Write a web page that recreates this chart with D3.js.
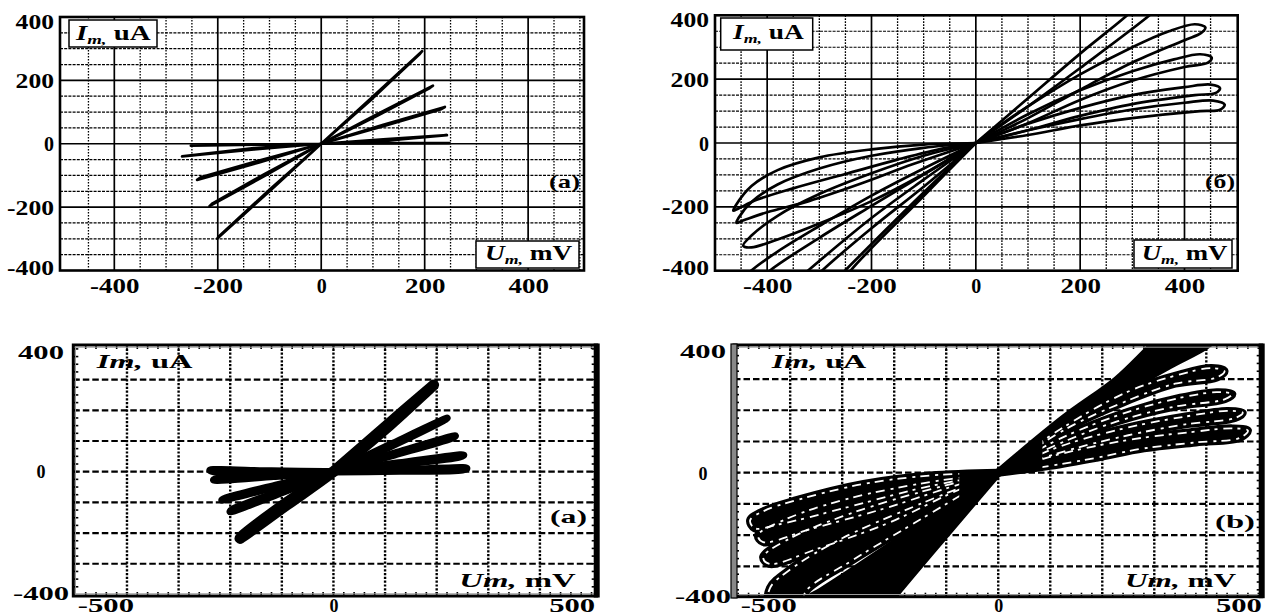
<!DOCTYPE html>
<html>
<head>
<meta charset="utf-8">
<script src="https://cdn.jsdelivr.net/npm/d3@7"></script>
<style>
  body { margin: 0; background: #fff; }
  svg { display: block; font-family: "Liberation Serif", "Times New Roman", serif; font-weight: bold; }
  svg text { font-family: "Liberation Serif", "Times New Roman", serif; font-weight: bold; }
</style>
</head>
<body>
<svg id="chart" width="1269" height="615"></svg>
<script>
// tick labels
const topXTicks = [-400, -200, 0, 200, 400];
const topYTicks = [-400, -200, 0, 200, 400];
const botXTicks = [-500, 0, 500];
const botYTicks = [-400, 0, 400];

// top-left (a): thin pinched lobes, points are [U mV, I uA]
const topLeftLines = [
  [[0,0],[100,149],[195,292],[191,284],[100,144],[0,0],[-100,-150],[-201,-299],[-197,-291],[-100,-145],[0,0]],
  [[0,0],[110,95],[216,183],[210,176],[110,90],[0,0],[-110,-102],[-216,-197],[-210,-188],[-110,-96],[0,0]],
  [[0,0],[120,60],[239,116],[232,109],[120,55],[0,0],[-120,-59],[-240,-114],[-233,-106],[-120,-53],[0,0]],
  [[0,0],[120,14],[243,27],[120,9],[0,0],[120,2],[248,2],[0,0],[-130,-18],[-269,-40],[-130,-14],[0,0],[-125,-3],[-252,-6],[0,0]]
];

// top-right (б): hysteresis loops, positive side
const topRightLoopsPos = [
  [[0,0],[100,140],[200,280],[290,400],[315,440],[360,440],[333,400],[200,235],[100,115],[0,0]],
  [[0,0],[50,60],[100,115],[200,215],[300,300],[370,350],[420,372],[440,362],[432,345],[400,322],[300,252],[200,167],[100,78],[50,38],[0,0]],
  [[0,0],[100,90],[200,165],[300,225],[380,262],[430,278],[452,268],[445,252],[400,238],[300,195],[200,135],[100,62],[0,0]],
  [[0,0],[100,60],[200,110],[300,150],[400,175],[450,183],[468,172],[460,157],[420,150],[300,122],[200,85],[100,40],[0,0]],
  [[0,0],[100,40],[200,75],[300,105],[400,126],[455,133],[477,120],[468,104],[430,100],[300,78],[200,55],[100,25],[0,0]]
];
// top-right (б): negative side
const topRightLoopsNeg = [
  [[0,0],[-100,-5],[-200,-20],[-300,-45],[-380,-85],[-430,-135],[-460,-195],[-465,-212],[-455,-205],[-420,-178],[-350,-142],[-250,-97],[-150,-52],[-60,-16],[0,0]],
  [[0,0],[-100,-15],[-200,-40],[-300,-80],[-380,-130],[-430,-185],[-455,-235],[-459,-250],[-445,-242],[-400,-217],[-320,-182],[-220,-127],[-120,-66],[0,0]],
  [[0,0],[-100,-40],[-200,-95],[-300,-160],[-380,-228],[-430,-290],[-446,-322],[-430,-327],[-380,-302],[-300,-252],[-200,-182],[-100,-97],[0,0]],
  [[0,0],[-100,-80],[-200,-165],[-300,-260],[-380,-340],[-431,-400],[-460,-440],[-420,-440],[-395,-400],[-300,-297],[-200,-197],[-100,-99],[0,0]],
  [[0,0],[-100,-115],[-200,-235],[-322,-400],[-350,-440],[-320,-440],[-295,-400],[-200,-267],[-100,-137],[0,0]],
  [[0,0],[-100,-155],[-251,-400],[-275,-440],[-255,-440],[-240,-400],[-100,-166],[0,0]]
];

// bottom-left (a): thick bands, steepest one and the rest
const botLeftSteep = [
  [[0,0],[100,146],[194,282],[186,270],[100,138],[0,0],[-90,-108],[-181,-217],[-174,-205],[-90,-100],[0,0]]
];
const botLeftBands = [
  [[0,0],[110,88],[220,174],[212,166],[110,82],[0,0],[-100,-68],[-200,-130],[-194,-122],[-100,-62],[0,0]],
  [[0,0],[118,60],[236,116],[228,109],[118,55],[0,0],[-108,-48],[-216,-92],[-208,-86],[-108,-43],[0,0]],
  [[0,0],[126,28],[252,54],[244,48],[126,23],[0,0],[-116,-15],[-232,-27],[-224,-22],[-116,-11],[0,0]],
  [[0,0],[129,6],[258,11],[250,6],[129,2],[0,0],[-120,2],[-239,5],[-230,0],[-120,-1],[0,0]]
];

// bottom-right (b): solid main bands and filled loops
const botRightSolid = [
  [[0,0],[125,172],[228,297],[298,409],[320,440],[420,440],[401,409],[330,345],[230,250],[120,135],[0,0]],
  [[0,0],[-100,-195],[-202,-397],[-222,-440],[-400,-440],[-340,-380],[-230,-260],[-115,-128],[0,0]]
];
const botRightLoops = [
  [[0,0],[120,140],[250,260],[350,315],[410,335],[435,325],[420,305],[340,285],[240,225],[130,140],[0,0]],
  [[0,0],[120,110],[250,195],[350,240],[420,258],[450,252],[435,235],[340,212],[230,165],[120,95],[0,0]],
  [[0,0],[120,85],[250,145],[360,180],[440,198],[470,192],[455,175],[360,155],[250,120],[130,70],[0,0]],
  [[0,0],[120,60],[250,105],[370,130],[450,142],[480,135],[465,112],[380,97],[280,78],[189,48],[100,22],[0,0]],
  [[0,0],[-131,-9],[-259,-36],[-388,-88],[-450,-122],[-477,-152],[-468,-178],[-420,-165],[-300,-115],[-150,-50],[0,0]],
  [[0,0],[-150,-35],[-300,-88],[-410,-150],[-462,-200],[-452,-222],[-360,-180],[-220,-115],[-90,-45],[0,0]],
  [[0,0],[-150,-62],[-300,-140],[-400,-210],[-452,-270],[-440,-292],[-350,-245],[-210,-160],[-90,-65],[0,0]],
  [[0,0],[-150,-100],[-300,-210],[-400,-310],[-439,-370],[-440,-440],[-380,-440],[-370,-380],[-280,-280],[-150,-150],[0,0]]
];

const svg = d3.select('#chart');
const defs = svg.append('defs');
const SERIF = '"Liberation Serif", "Times New Roman", serif';

// panel frames (pixel boxes)
const panels = [
  {id: 'p1', xd: [-505, 508], xr: [60, 584], yd: [-400, 400], yr: [270.5, 17]},
  {id: 'p2', xd: [-500, 502], xr: [715, 1237.7], yd: [-400, 400], yr: [270.7, 15.3]},
  {id: 'p3', xd: [-504, 510], xr: [73.3, 596.7], yd: [-405, 412.7], yr: [596, 345]},
  {id: 'p4', xd: [-508, 506.5], xr: [734, 1261.7], yd: [-397, 409], yr: [596.7, 345]}
];
panels.forEach(p => {
  p.x = d3.scaleLinear().domain(p.xd).range(p.xr);
  p.y = d3.scaleLinear().domain(p.yd).range(p.yr);
  p.line = d3.line().x(d => p.x(d[0])).y(d => p.y(d[1])).curve(d3.curveCatmullRom.alpha(0.5));
  p.poly = d3.line().x(d => p.x(d[0])).y(d => p.y(d[1]));
  defs.append('clipPath').attr('id', 'clip-' + p.id)
    .append('rect')
      .attr('x', p.xr[0]).attr('y', p.yr[1])
      .attr('width', p.xr[1] - p.xr[0]).attr('height', p.yr[0] - p.yr[1]);
});

// streak clip for panel 4: keep the crossing point solid
{
  const p = panels[3];
  const c = defs.append('clipPath').attr('id', 'clip-streak');
  c.append('rect').attr('x', p.xr[0]).attr('y', p.yr[1]).attr('width', p.x(-75) - p.xr[0]).attr('height', p.yr[0] - p.yr[1]);
  c.append('rect').attr('x', p.x(85)).attr('y', p.yr[1]).attr('width', p.xr[1] - p.x(85)).attr('height', p.yr[0] - p.yr[1]);
}

const fmt = d => d < 0 ? '-' + (-d) : '' + d;

// stretch a text element horizontally (the scan is wide)
function stretch(sel, factor) {
  sel.each(function() {
    if (this.textContent === '0') return;
    const len = this.getComputedTextLength();
    d3.select(this).attr('textLength', len * factor).attr('lengthAdjust', 'spacingAndGlyphs');
  });
}

// mixed-style label scaled to a target width
function addLabel(left, base, target, parts, size) {
  const g = svg.append('g');
  const t = g.append('text').attr('x', 0).attr('y', 0).attr('font-size', size).attr('fill', '#000');
  parts.forEach(p => {
    const s = t.append('tspan').text(p.t);
    if (p.it) s.attr('font-style', 'italic');
    if (p.fs) s.attr('font-size', p.fs);
    if (p.dy) s.attr('dy', p.dy);
  });
  const w = t.node().getBBox().width;
  g.attr('transform', `translate(${left},${base}) scale(${target / w},1)`);
}

function styleAxis(ax, size) {
  ax.attr('font-family', SERIF).attr('font-weight', 'bold');
  ax.select('.domain').remove();
  ax.selectAll('text').attr('font-size', size).attr('fill', '#000');
}

function drawTop(p, curves, lineGen) {
  const g = svg.append('g');
  const [x0, x1] = p.xr, [y1, y0] = p.yr;
  g.append('rect').attr('x', x0).attr('y', y0).attr('width', x1 - x0).attr('height', y1 - y0).attr('fill', '#fff');

  // minor grid every 50
  d3.range(-500, 501, 50).filter(v => v % 200 !== 0 && p.x(v) > x0 + 4 && p.x(v) < x1 - 4).forEach(v => {
    g.append('line').attr('x1', p.x(v)).attr('x2', p.x(v)).attr('y1', y0).attr('y2', y1)
      .attr('stroke', '#000').attr('stroke-width', 1.3).attr('stroke-dasharray', '1.6,1.4');
  });
  d3.range(-350, 351, 50).filter(v => v % 200 !== 0).forEach(v => {
    g.append('line').attr('x1', x0).attr('x2', x1).attr('y1', p.y(v)).attr('y2', p.y(v))
      .attr('stroke', '#000').attr('stroke-width', 1.2).attr('stroke-dasharray', '3,1.2');
  });
  // major grid every 200
  [-400, -200, 0, 200, 400].forEach(v => {
    g.append('line').attr('x1', p.x(v)).attr('x2', p.x(v)).attr('y1', y0).attr('y2', y1)
      .attr('stroke', '#000').attr('stroke-width', 1.7);
  });
  [-200, 0, 200].forEach(v => {
    g.append('line').attr('x1', x0).attr('x2', x1).attr('y1', p.y(v)).attr('y2', p.y(v))
      .attr('stroke', '#000').attr('stroke-width', 1.7);
  });

  g.append('g').attr('clip-path', `url(#clip-${p.id})`)
    .selectAll('path').data(curves).enter().append('path')
      .attr('d', lineGen)
      .attr('fill', 'none').attr('stroke', '#000').attr('stroke-width', 2.7).attr('stroke-linejoin', 'round');

  g.append('rect').attr('x', x0).attr('y', y0).attr('width', x1 - x0).attr('height', y1 - y0)
    .attr('fill', 'none').attr('stroke', '#000').attr('stroke-width', 2.6);

  // axes
  const xa = svg.append('g').attr('transform', 'translate(0,293)')
    .call(d3.axisBottom(p.x).tickValues(topXTicks).tickSize(0).tickFormat(fmt));
  styleAxis(xa, 20);
  xa.selectAll('text').attr('y', 0).attr('dy', 0);
  stretch(xa.selectAll('text'), 1.35);

  const ya = svg.append('g').attr('transform', `translate(${x0 - 6},0)`)
    .call(d3.axisLeft(p.y).tickValues(topYTicks).tickSize(0).tickFormat(fmt));
  styleAxis(ya, 20);
  ya.selectAll('text').attr('x', 0).attr('dy', '0.35em')
    .attr('y', d => d === 400 ? 4 : (d === -400 ? -3 : 0));
  stretch(ya.selectAll('text'), 1.28);
}

function drawBottom(p, yLabelX) {
  const g = svg.append('g');
  const [x0, x1] = p.xr, [y1, y0] = p.yr;
  g.append('rect').attr('x', x0).attr('y', y0).attr('width', x1 - x0).attr('height', y1 - y0).attr('fill', '#fff');

  d3.range(-500, 501, 100).filter(v => p.x(v) > x0 + 6 && p.x(v) < x1 - 6).forEach(v => {
    g.append('line').attr('x1', p.x(v)).attr('x2', p.x(v)).attr('y1', y0).attr('y2', y1)
      .attr('stroke', '#000').attr('stroke-width', 2.4).attr('stroke-dasharray', '2.2,1.6');
  });
  d3.range(-400, 401, 100).filter(v => p.y(v) > y0 + 6 && p.y(v) < y1 - 6).forEach(v => {
    g.append('line').attr('x1', x0).attr('x2', x1).attr('y1', p.y(v)).attr('y2', p.y(v))
      .attr('stroke', '#000').attr('stroke-width', 2.2).attr('stroke-dasharray', '6.5,3');
  });
  // small ticks round the frame
  d3.range(-500, 501, 20).filter(v => p.x(v) > x0 + 3 && p.x(v) < x1 - 3).forEach(v => {
    g.append('line').attr('x1', p.x(v)).attr('x2', p.x(v)).attr('y1', y0).attr('y2', y0 + 4).attr('stroke', '#000').attr('stroke-width', 1.6);
    g.append('line').attr('x1', p.x(v)).attr('x2', p.x(v)).attr('y1', y1).attr('y2', y1 - 4).attr('stroke', '#000').attr('stroke-width', 1.6);
  });
  d3.range(-400, 401, 25).filter(v => p.y(v) > y0 + 3 && p.y(v) < y1 - 3).forEach(v => {
    g.append('line').attr('x1', x0).attr('x2', x0 + 5).attr('y1', p.y(v)).attr('y2', p.y(v)).attr('stroke', '#000').attr('stroke-width', 1.6);
    g.append('line').attr('x1', x1).attr('x2', x1 - 5).attr('y1', p.y(v)).attr('y2', p.y(v)).attr('stroke', '#000').attr('stroke-width', 1.6);
  });

  const cg = g.append('g').attr('clip-path', `url(#clip-${p.id})`);
  return {g, cg, frame: () => {
    g.append('rect').attr('x', x0).attr('y', y0).attr('width', x1 - x0).attr('height', y1 - y0)
      .attr('fill', 'none').attr('stroke', '#000').attr('stroke-width', 3);
    g.append('rect').attr('x', x0 + 2.2).attr('y', y0 + 2.2).attr('width', x1 - x0 - 4.4).attr('height', y1 - y0 - 4.4)
      .attr('fill', 'none').attr('stroke', '#9a9a9a').attr('stroke-width', 1);
    g.append('rect').attr('x', x1 - 3).attr('y', y0 - 1.5).attr('width', 6).attr('height', y1 - y0 + 3).attr('fill', '#000');

    const xa = svg.append('g').attr('transform', 'translate(0,612)')
      .call(d3.axisBottom(p.x).tickValues(botXTicks).tickSize(0).tickFormat(fmt));
    styleAxis(xa, 18);
    xa.selectAll('text').attr('y', 0).attr('dy', 0)
      .attr('text-anchor', d => d < 0 ? 'start' : (d > 0 ? 'end' : 'middle'))
      .attr('x', d => d < 0 ? 2 : (d > 0 ? 3 : 0));
    stretch(xa.selectAll('text'), 1.7);

    const ya = svg.append('g').attr('transform', `translate(${yLabelX},0)`)
      .call(d3.axisLeft(p.y).tickValues(botYTicks).tickSize(0).tickFormat(fmt));
    styleAxis(ya, 18);
    ya.selectAll('text').attr('x', 0).attr('dy', '0.35em').attr('text-anchor', 'middle')
      .attr('y', d => d === 400 ? 3 : (d === -400 ? -1 : 0));
    stretch(ya.selectAll('text'), 1.7);
  }};
}

// ---- top-left (a)
drawTop(panels[0], topLeftLines, panels[0].poly);
svg.append('rect').attr('x', 69).attr('y', 20).attr('width', 88).attr('height', 27)
  .attr('fill', '#fff').attr('stroke', '#000').attr('stroke-width', 1.5);
addLabel(76, 40, 77, [{t: 'I', it: true}, {t: 'm,', it: true, fs: 13, dy: 4}, {t: ' uA', dy: -4}], 20);
svg.append('rect').attr('x', 476).attr('y', 241).attr('width', 103).attr('height', 27)
  .attr('fill', '#fff').attr('stroke', '#000').attr('stroke-width', 1.5);
addLabel(485, 260, 88, [{t: 'U', it: true}, {t: 'm,', it: true, fs: 13, dy: 4}, {t: ' mV', dy: -4}], 20);
addLabel(549, 188, 31, [{t: '(a)'}], 18);

// ---- top-right (б)
drawTop(panels[1], topRightLoopsPos.concat(topRightLoopsNeg), panels[1].line);
svg.append('rect').attr('x', 720.7).attr('y', 18).attr('width', 92).attr('height', 32)
  .attr('fill', '#fff').attr('stroke', '#000').attr('stroke-width', 1.5);
addLabel(733, 39, 73, [{t: 'I', it: true}, {t: 'm,', it: true, fs: 13, dy: 4}, {t: ' uA', dy: -4}], 20);
svg.append('rect').attr('x', 1134).attr('y', 240).attr('width', 98).attr('height', 28)
  .attr('fill', '#fff').attr('stroke', '#000').attr('stroke-width', 1.5);
addLabel(1141.7, 259.5, 86.6, [{t: 'U', it: true}, {t: 'm,', it: true, fs: 13, dy: 4}, {t: ' mV', dy: -4}], 20);
addLabel(1205, 188, 30, [{t: '(б)'}], 18);

// ---- bottom-left (a)
const b3 = drawBottom(panels[2], 41);
b3.cg.selectAll('.steep').data(botLeftSteep).enter().append('path')
  .attr('d', panels[2].line).attr('fill', '#000').attr('stroke', '#000')
  .attr('stroke-width', 11).attr('stroke-linejoin', 'round');
b3.cg.selectAll('.band').data(botLeftBands).enter().append('path')
  .attr('d', panels[2].line).attr('fill', '#000').attr('stroke', '#000')
  .attr('stroke-width', 7.5).attr('stroke-linejoin', 'round');
b3.frame();
addLabel(96.7, 368, 98, [{t: 'Im,', it: true}, {t: ' uA'}], 19);
addLabel(459.3, 586.7, 117, [{t: 'Um,', it: true}, {t: ' mV'}], 19);
addLabel(550, 523, 37, [{t: '(a)'}], 18);

// ---- bottom-right (b)
const b4 = drawBottom(panels[3], 703);
b4.cg.selectAll('.solid').data(botRightSolid).enter().append('path')
  .attr('d', panels[3].line).attr('fill', '#000').attr('stroke', '#000')
  .attr('stroke-width', 8).attr('stroke-linejoin', 'round');
b4.cg.selectAll('.loop').data(botRightLoops).enter().append('path')
  .attr('d', panels[3].line).attr('fill', '#000').attr('stroke', '#000')
  .attr('stroke-width', 8).attr('stroke-linejoin', 'round');
// white streaks along each trace inside the noisy mass
b4.cg.append('g').attr('clip-path', 'url(#clip-streak)')
  .selectAll('path').data(botRightLoops).enter().append('path')
    .attr('d', panels[3].line).attr('fill', 'none').attr('stroke', '#fff')
    .attr('stroke-width', 1.8).attr('stroke-dasharray', '9,5,3,6');
b4.frame();
svg.append('rect').attr('x', 731).attr('y', 344).attr('width', 6).attr('height', 254).attr('fill', '#888')
  .attr('stroke', '#000').attr('stroke-width', 1.2);
addLabel(771.7, 368, 96.7, [{t: 'Im,', it: true}, {t: ' uA'}], 19);
addLabel(1125, 586.7, 111.7, [{t: 'Um,', it: true}, {t: ' mV'}], 19);
addLabel(1215, 528, 40, [{t: '(b)'}], 18);
</script>
</body>
</html>
